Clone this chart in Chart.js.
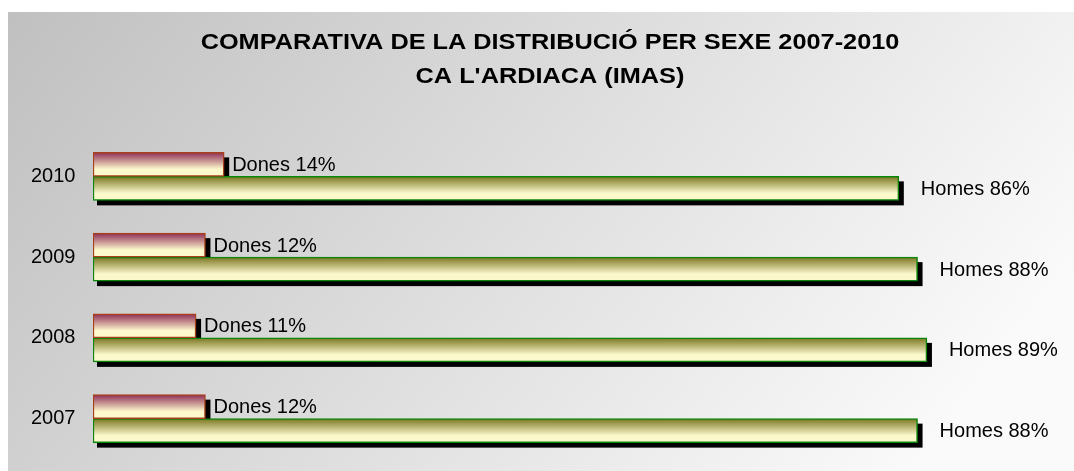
<!DOCTYPE html>
<html>
<head>
<meta charset="utf-8">
<script src="https://cdn.jsdelivr.net/npm/chart.js@4.4.0/dist/chart.umd.min.js"></script>
<style>
  html, body { margin: 0; padding: 0; background: #fff; }
  #wrap { width: 1074px; height: 471px; }
</style>
</head>
<body>
<div id="wrap"><canvas id="sexeChart" width="1074" height="471"></canvas></div>
<script>
  // Dades llegides del gràfic
  const anys = ['2010', '2009', '2008', '2007'];
  const dones = [14, 12, 11, 12];
  const homes = [86, 88, 89, 88];
  const titol = ['COMPARATIVA DE LA DISTRIBUCIÓ PER SEXE 2007-2010', "CA L'ARDIACA (IMAS)"];

  const FONT = '"Liberation Sans", Arial, sans-serif';
  const BAR_H = 24;

  const colors = {
    dones: { top: '#8e2c56', bottom: '#fdf9cc', border: '#a8401c' },
    homes: { top: '#7a7620', bottom: '#fbf8cc', border: '#0b850b' }
  };

  // degradat vertical per cada barra (la posició surt de l'escala Y)
  function barGradient(key) {
    return (ctx) => {
      const chart = ctx.chart;
      const y = chart.scales.y;
      if (!chart.chartArea || !y || ctx.dataIndex == null) return colors[key].bottom;
      const top = y.getPixelForValue(ctx.dataIndex) - BAR_H + ctx.datasetIndex * BAR_H;
      const g = chart.ctx.createLinearGradient(0, top, 0, top + BAR_H);
      g.addColorStop(0, colors[key].top);
      g.addColorStop(0.7, colors[key].bottom);
      g.addColorStop(1, colors[key].bottom);
      return g;
    };
  }

  const fons = {
    id: 'fons',
    beforeDraw(chart) {
      const c = chart.ctx;
      const g = c.createLinearGradient(8, 12, 800, 620);
      g.addColorStop(0, '#c0c0c0');
      g.addColorStop(1, '#fafafa');
      c.save();
      c.fillStyle = '#fff';
      c.fillRect(0, 0, chart.width, chart.height);
      c.fillStyle = g;
      c.fillRect(8, 12, chart.width - 8, chart.height - 12);
      c.restore();
    }
  };

  // títol una mica eixamplat, com a l'original
  const capcalera = {
    id: 'capcalera',
    afterDraw(chart) {
      const c = chart.ctx;
      c.save();
      c.font = 'bold 22px ' + FONT;
      c.fillStyle = '#000';
      c.textAlign = 'center';
      c.textBaseline = 'middle';
      titol.forEach((t, i) => {
        c.save();
        c.translate(550, 43 + i * 34);
        c.scale(1.15, 1);
        c.fillText(t, 0, 0);
        c.restore();
      });
      c.restore();
    }
  };

  const ombra = {
    id: 'ombra',
    beforeDatasetsDraw(chart) {
      const c = chart.ctx;
      c.save();
      c.fillStyle = '#000';
      chart.data.datasets.forEach((ds, i) => {
        chart.getDatasetMeta(i).data.forEach(bar => {
          const { x, y, base, height } = bar.getProps(['x', 'y', 'base', 'height'], true);
          c.fillRect(base + 4, y - height / 2 + 5, x - base + 1, height);
        });
      });
      c.restore();
    }
  };

  const etiquetes = {
    id: 'etiquetes',
    afterDatasetsDraw(chart) {
      const c = chart.ctx;
      c.save();
      c.font = '20px ' + FONT;
      c.fillStyle = '#000';
      c.textBaseline = 'middle';
      chart.data.datasets.forEach((ds, i) => {
        chart.getDatasetMeta(i).data.forEach((bar, j) => {
          c.fillText(`${ds.label} ${ds.data[j]}%`, bar.x + (i === 0 ? 8 : 22), bar.y + 1);
        });
      });
      c.restore();
    }
  };

  new Chart(document.getElementById('sexeChart').getContext('2d'), {
    type: 'bar',
    data: {
      labels: anys,
      datasets: [
        { label: 'Dones', data: dones, backgroundColor: barGradient('dones'), borderColor: colors.dones.border, borderWidth: 1.5, borderSkipped: false, barThickness: BAR_H },
        { label: 'Homes', data: homes, backgroundColor: barGradient('homes'), borderColor: colors.homes.border, borderWidth: 1.5, borderSkipped: false, barThickness: BAR_H }
      ]
    },
    options: {
      indexAxis: 'y',
      responsive: false,
      animation: false,
      layout: { autoPadding: false, padding: { left: 31, right: 44, top: 136, bottom: 7 } },
      plugins: {
        legend: { display: false },
        tooltip: { enabled: false },
        title: { display: false }
      },
      scales: {
        x: { display: false, min: 0, max: 100 },
        y: {
          grid: { display: false, drawTicks: false },
          border: { display: false },
          ticks: { color: '#000', padding: 0, crossAlign: 'far', font: { family: FONT, size: 20 } },
          afterFit: (s) => { s.width = 62; }
        }
      }
    },
    plugins: [fons, capcalera, ombra, etiquetes]
  });
</script>
</body>
</html>
